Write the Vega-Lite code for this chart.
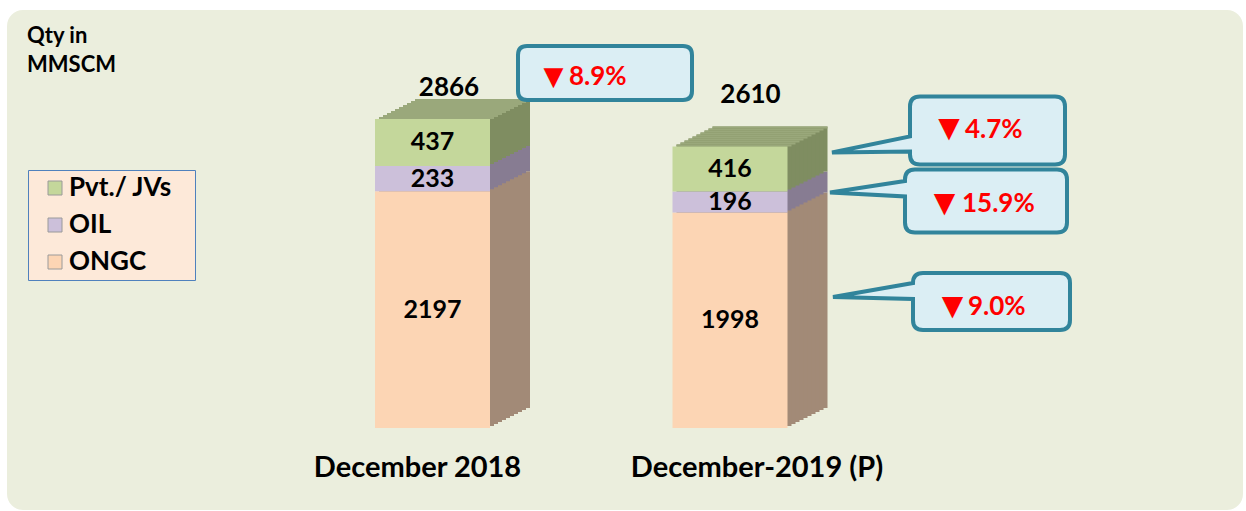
{
  "$schema": "https://vega.github.io/schema/vega-lite/v6.json",
  "width": 1236,
  "height": 500,
  "autosize": {"type": "none"},
  "padding": {"left": 7, "top": 10, "right": 3, "bottom": 1},
  "background": "#ffffff",
  "config": {
    "view": {"fill": "#EBEEDD", "stroke": null, "cornerRadius": 16},
    "font": "Lato"
  },
  "title": {
    "text": ["Qty in", "MMSCM"],
    "anchor": "start",
    "frame": "group",
    "orient": "top",
    "baseline": "top",
    "offset": -67,
    "dx": 20,
    "font": "Lato",
    "fontSize": 22,
    "fontWeight": "bold",
    "lineHeight": 29,
    "color": "#000000"
  },
  "data": {
    "values": [
      {"period": "December 2018", "company": "ONGC", "value": 2197},
      {"period": "December 2018", "company": "OIL", "value": 233},
      {"period": "December 2018", "company": "Pvt./ JVs", "value": 437},
      {"period": "December-2019 (P)", "company": "ONGC", "value": 1998, "change": "9.0%"},
      {"period": "December-2019 (P)", "company": "OIL", "value": 196, "change": "15.9%"},
      {"period": "December-2019 (P)", "company": "Pvt./ JVs", "value": 416, "change": "4.7%"}
    ]
  },
  "transform": [
    {"calculate": "indexof(['ONGC','OIL','Pvt./ JVs'], datum.company)", "as": "ord"},
    {"stack": "value", "groupby": ["period"], "sort": [{"field": "ord", "order": "ascending"}], "as": ["v0", "v1"]},
    {"calculate": "(datum.v0 + datum.v1) / 2", "as": "mid"}
  ],
  "encoding": {
    "x": {
      "field": "period",
      "type": "nominal",
      "sort": ["December 2018", "December-2019 (P)"],
      "scale": {"type": "band", "range": [276.75, 871.75], "paddingInner": 0, "paddingOuter": 0},
      "axis": {
        "title": null,
        "domain": false,
        "ticks": false,
        "grid": false,
        "labelAngle": 0,
        "labelFont": "Lato",
        "labelFontSize": 29,
        "labelFontWeight": "bold",
        "labelColor": "#000000",
        "labelLimit": 500,
        "labelPadding": 8,
        "offset": -65,
        "labelOffset": {"condition": {"test": "datum.value == 'December 2018'", "value": -15}, "value": 27}
      }
    }
  },
  "layer": [
    {
      "encoding": {
        "y": {"field": "v1", "type": "quantitative", "scale": {"domain": [0, 3877], "range": [418, 0], "nice": false, "zero": true}, "axis": null},
        "y2": {"field": "v0"},
        "fill": {"field": "company", "type": "nominal", "scale": {"domain": ["ONGC", "OIL", "Pvt./ JVs"], "range": ["#A28A77", "#877C92", "#7F8D61"]}, "legend": null}
      },
      "layer": [
        {"mark": {"type": "bar", "width": 115, "xOffset": 40, "yOffset": -20, "y2Offset": -20}},
        {"mark": {"type": "bar", "width": 115, "xOffset": 36, "yOffset": -18, "y2Offset": -18}},
        {"mark": {"type": "bar", "width": 115, "xOffset": 32, "yOffset": -16, "y2Offset": -16}},
        {"mark": {"type": "bar", "width": 115, "xOffset": 28, "yOffset": -14, "y2Offset": -14}},
        {"mark": {"type": "bar", "width": 115, "xOffset": 24, "yOffset": -12, "y2Offset": -12}},
        {"mark": {"type": "bar", "width": 115, "xOffset": 20, "yOffset": -10, "y2Offset": -10}},
        {"mark": {"type": "bar", "width": 115, "xOffset": 16, "yOffset": -8, "y2Offset": -8}},
        {"mark": {"type": "bar", "width": 115, "xOffset": 12, "yOffset": -6, "y2Offset": -6}},
        {"mark": {"type": "bar", "width": 115, "xOffset": 8, "yOffset": -4, "y2Offset": -4}},
        {"mark": {"type": "bar", "width": 115, "xOffset": 4, "yOffset": -2, "y2Offset": -2}}
      ]
    },
    {
      "transform": [{"filter": "datum.company == 'Pvt./ JVs'"}],
      "encoding": {
        "y": {"field": "v1", "type": "quantitative", "axis": null},
        "y2": {"field": "v1"}
      },
      "layer": [
        {"mark": {"type": "bar", "width": 115, "color": "#9AA87B", "xOffset": 4, "yOffset": -2, "y2Offset": 0}},
        {"mark": {"type": "bar", "width": 115, "color": "#9AA87B", "xOffset": 8, "yOffset": -4, "y2Offset": -2}},
        {"mark": {"type": "bar", "width": 115, "color": "#9AA87B", "xOffset": 12, "yOffset": -6, "y2Offset": -4}},
        {"mark": {"type": "bar", "width": 115, "color": "#9AA87B", "xOffset": 16, "yOffset": -8, "y2Offset": -6}},
        {"mark": {"type": "bar", "width": 115, "color": "#9AA87B", "xOffset": 20, "yOffset": -10, "y2Offset": -8}},
        {"mark": {"type": "bar", "width": 115, "color": "#9AA87B", "xOffset": 24, "yOffset": -12, "y2Offset": -10}},
        {"mark": {"type": "bar", "width": 115, "color": "#9AA87B", "xOffset": 28, "yOffset": -14, "y2Offset": -12}},
        {"mark": {"type": "bar", "width": 115, "color": "#9AA87B", "xOffset": 32, "yOffset": -16, "y2Offset": -14}},
        {"mark": {"type": "bar", "width": 115, "color": "#9AA87B", "xOffset": 36, "yOffset": -18, "y2Offset": -16}},
        {"mark": {"type": "bar", "width": 115, "color": "#9AA87B", "xOffset": 40, "yOffset": -20, "y2Offset": -18}}
      ]
    },
    {
      "mark": {"type": "bar", "width": 115},
      "encoding": {
        "y": {"field": "v1", "type": "quantitative", "axis": null},
        "y2": {"field": "v0"},
        "color": {
          "field": "company",
          "type": "nominal",
          "scale": {"domain": ["Pvt./ JVs", "OIL", "ONGC"], "range": ["#C4D79B", "#CCC0DA", "#FCD5B4"]},
          "legend": {
            "orient": "none",
            "legendX": 21,
            "legendY": 160,
            "title": "\u00a0",
            "titleOrient": "right",
            "titlePadding": 18,
            "titleFontSize": 4,
            "fillColor": "#FDE9D9",
            "strokeColor": "#4F81BD",
            "padding": 5,
            "symbolType": "square",
            "symbolSize": 196,
            "symbolOffset": 9,
            "symbolStrokeColor": "#9a9a9a",
            "symbolStrokeWidth": 1,
            "labelFont": "Lato",
            "labelFontSize": 26,
            "labelFontWeight": "bold",
            "labelColor": "#000000",
            "labelOffset": 1,
            "rowPadding": 11
          }
        }
      }
    },
    {
      "mark": {"type": "text", "font": "Lato", "fontSize": 25, "fontWeight": "bold", "color": "#000000", "baseline": "middle"},
      "encoding": {
        "y": {"field": "mid", "type": "quantitative", "axis": null},
        "text": {"field": "value", "type": "nominal"}
      }
    },
    {
      "data": {
        "values": [
          {"period": "December 2018", "total": 2866},
          {"period": "December-2019 (P)", "total": 2610, "change": "8.9%"}
        ]
      },
      "encoding": {
        "y": {"field": "total", "type": "quantitative", "axis": null}
      },
      "layer": [
        {
          "transform": [{"filter": "datum.period == 'December 2018'"}],
          "mark": {"type": "text", "font": "Lato", "fontSize": 26, "fontWeight": "bold", "color": "#000000", "baseline": "middle", "dx": 16.5, "dy": -31},
          "encoding": {"text": {"field": "total", "type": "nominal"}}
        },
        {
          "transform": [{"filter": "datum.period == 'December-2019 (P)'"}],
          "mark": {"type": "text", "font": "Lato", "fontSize": 26, "fontWeight": "bold", "color": "#000000", "baseline": "middle", "dx": 20.5, "dy": -51.6},
          "encoding": {"text": {"field": "total", "type": "nominal"}}
        },
        {
          "transform": [{"filter": "datum.period == 'December-2019 (P)'"}],
          "mark": {"type": "point", "shape": "M-78,-27 H78 Q87,-27 87,-18 V18 Q87,27 78,27 H-78 Q-87,27 -87,18 V-18 Q-87,-27 -78,-27 Z", "size": 4, "filled": true, "fill": "#DBEEF4", "stroke": "#31849B", "strokeWidth": 4, "opacity": 1, "xOffset": -125, "yOffset": -73.6}
        },
        {
          "transform": [{"filter": "datum.period == 'December-2019 (P)'"}],
          "mark": {"type": "text", "font": "DejaVu Sans", "fontSize": 26, "color": "#FF0000", "align": "center", "baseline": "middle", "dx": -176.5, "dy": -70},
          "encoding": {"text": {"value": "▼"}}
        },
        {
          "transform": [{"filter": "datum.period == 'December-2019 (P)'"}],
          "mark": {"type": "text", "font": "Lato", "fontSize": 26, "fontWeight": "bold", "color": "#FF0000", "align": "left", "baseline": "middle", "dx": -161, "dy": -69.6},
          "encoding": {"text": {"field": "change", "type": "nominal"}}
        }
      ]
    },
    {
      "transform": [{"filter": "datum.period == 'December-2019 (P)'"}],
      "encoding": {
        "y": {"field": "mid", "type": "quantitative", "axis": null}
      },
      "layer": [
        {
          "transform": [{"filter": "datum.company == 'Pvt./ JVs'"}],
          "mark": {"type": "point", "shape": "M-67.5,-34 H67.5 Q77.5,-34 77.5,-24 V24 Q77.5,34 67.5,34 H-67.5 Q-77.5,34 -77.5,24 V21 L-155.5,22 L-77.5,6 V-24 Q-77.5,-34 -67.5,-34 Z", "size": 4, "filled": true, "fill": "#DBEEF4", "stroke": "#31849B", "strokeWidth": 4, "opacity": 1, "xOffset": 257.5, "yOffset": -38.6}
        },
        {
          "transform": [{"filter": "datum.company == 'Pvt./ JVs'"}],
          "mark": {"type": "text", "font": "DejaVu Sans", "fontSize": 28, "color": "#FF0000", "align": "center", "baseline": "middle", "dx": 219, "dy": -39.6},
          "encoding": {"text": {"value": "▼"}}
        },
        {
          "transform": [{"filter": "datum.company == 'Pvt./ JVs'"}],
          "mark": {"type": "text", "font": "Lato", "fontSize": 26, "fontWeight": "bold", "color": "#FF0000", "align": "left", "baseline": "middle", "dx": 235, "dy": -38.6},
          "encoding": {"text": {"field": "change", "type": "nominal"}}
        },
        {
          "transform": [{"filter": "datum.company == 'OIL'"}],
          "mark": {"type": "point", "shape": "M-71,-31.5 H71 Q81,-31.5 81,-21.5 V21.5 Q81,31.5 71,31.5 H-71 Q-81,31.5 -81,21.5 V-4.5 L-156,-8.5 L-81,-20 V-21.5 Q-81,-31.5 -71,-31.5 Z", "size": 4, "filled": true, "fill": "#DBEEF4", "stroke": "#31849B", "strokeWidth": 4, "opacity": 1, "xOffset": 256, "yOffset": -1.1}
        },
        {
          "transform": [{"filter": "datum.company == 'OIL'"}],
          "mark": {"type": "text", "font": "DejaVu Sans", "fontSize": 28, "color": "#FF0000", "align": "center", "baseline": "middle", "dx": 214.5, "dy": 1.5},
          "encoding": {"text": {"value": "▼"}}
        },
        {
          "transform": [{"filter": "datum.company == 'OIL'"}],
          "mark": {"type": "text", "font": "Lato", "fontSize": 26, "fontWeight": "bold", "color": "#FF0000", "align": "left", "baseline": "middle", "dx": 232, "dy": 2},
          "encoding": {"text": {"field": "change", "type": "nominal"}}
        },
        {
          "transform": [{"filter": "datum.company == 'ONGC'"}],
          "mark": {"type": "point", "shape": "M-68.5,-28.5 H68.5 Q78.5,-28.5 78.5,-18.5 V18.5 Q78.5,28.5 68.5,28.5 H-68.5 Q-78.5,28.5 -78.5,18.5 V-2.5 L-158.5,-4.5 L-78.5,-18.5 Q-78.5,-28.5 -68.5,-28.5 Z", "size": 4, "filled": true, "fill": "#DBEEF4", "stroke": "#31849B", "strokeWidth": 4, "opacity": 1, "xOffset": 261.5, "yOffset": -18.8}
        },
        {
          "transform": [{"filter": "datum.company == 'ONGC'"}],
          "mark": {"type": "text", "font": "DejaVu Sans", "fontSize": 28, "color": "#FF0000", "align": "center", "baseline": "middle", "dx": 222.5, "dy": -13},
          "encoding": {"text": {"value": "▼"}}
        },
        {
          "transform": [{"filter": "datum.company == 'ONGC'"}],
          "mark": {"type": "text", "font": "Lato", "fontSize": 26, "fontWeight": "bold", "color": "#FF0000", "align": "left", "baseline": "middle", "dx": 238, "dy": -12.8},
          "encoding": {"text": {"field": "change", "type": "nominal"}}
        }
      ]
    }
  ]
}
